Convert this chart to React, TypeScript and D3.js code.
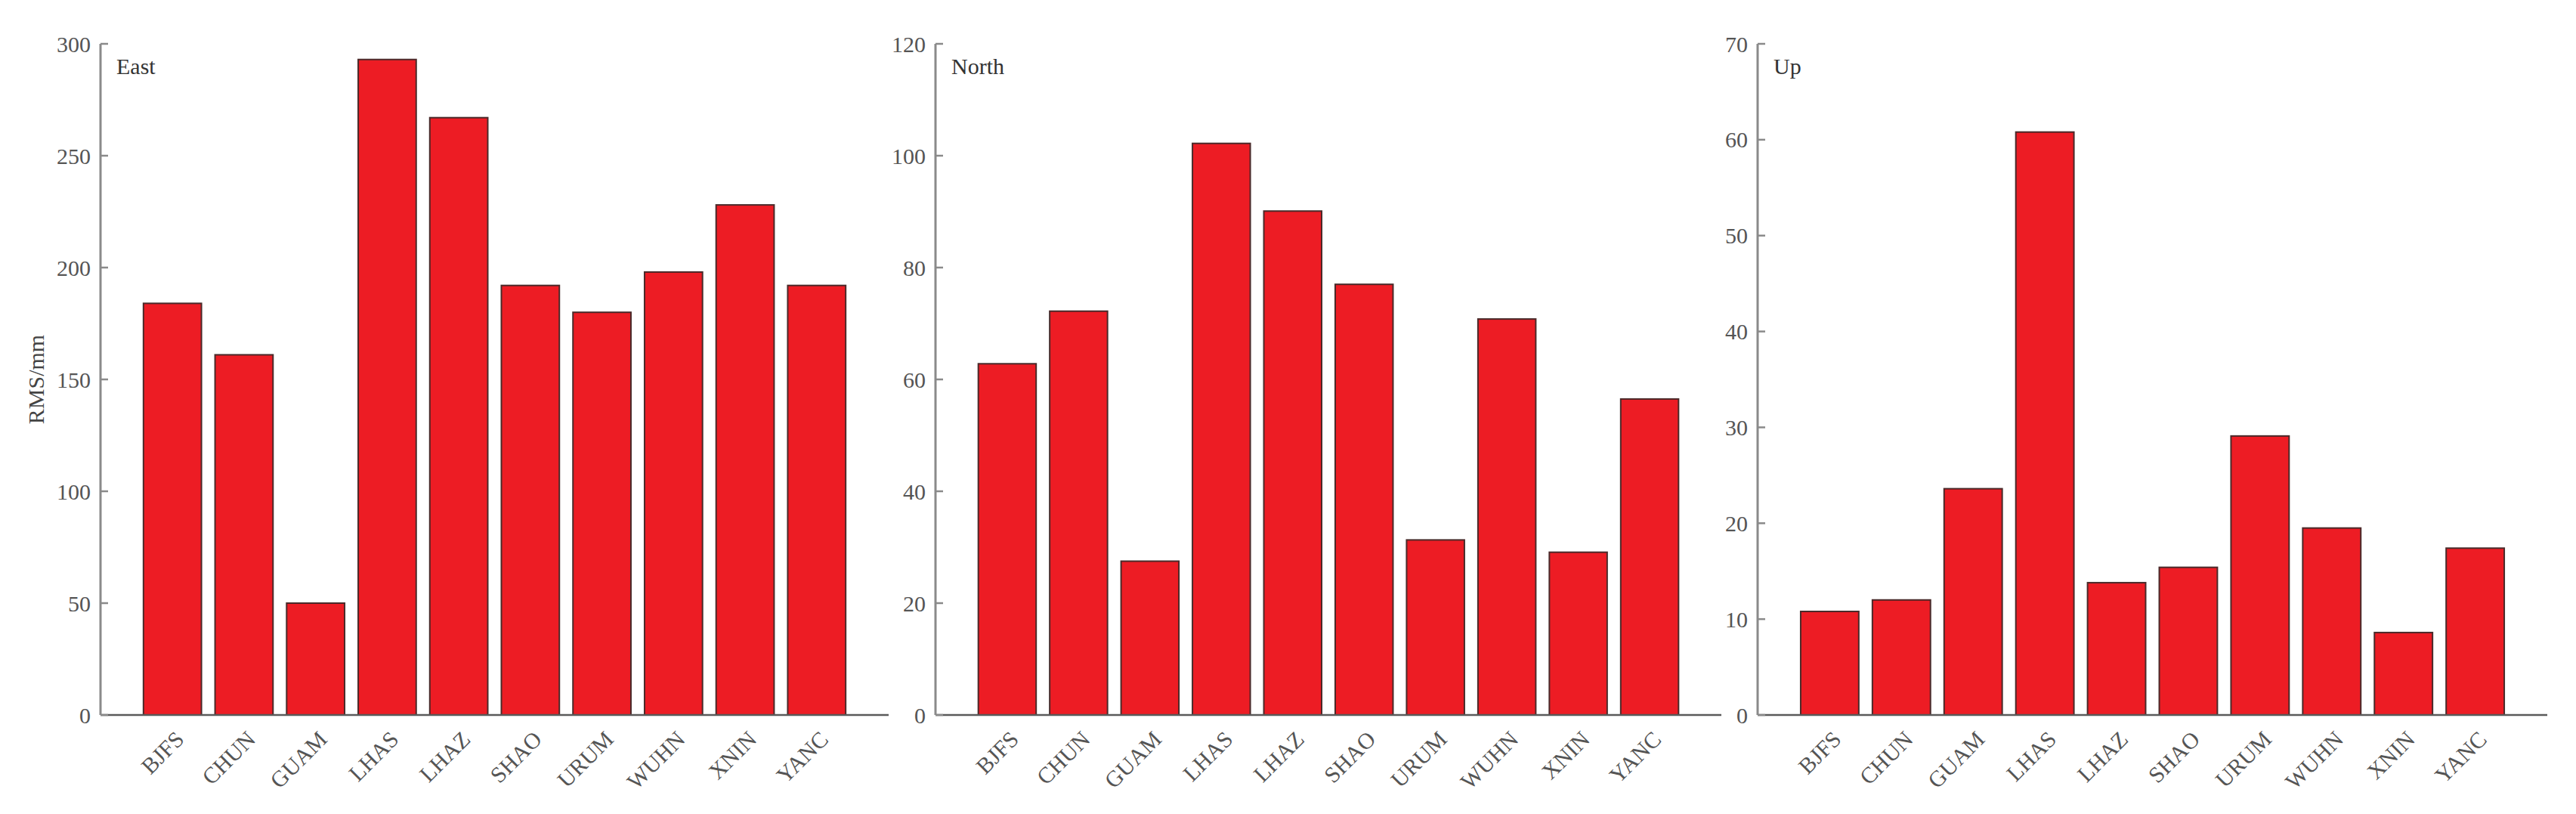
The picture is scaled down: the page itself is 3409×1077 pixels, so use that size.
import React from "react";
import * as d3 from "d3";

const stations = ["BJFS", "CHUN", "GUAM", "LHAS", "LHAZ", "SHAO", "URUM", "WUHN", "XNIN", "YANC"];
const eastValues = [184, 161, 50, 293, 267, 192, 180, 198, 228, 192];
const northValues = [62.8, 72.2, 27.5, 102.2, 90.1, 77, 31.3, 70.8, 29.1, 56.5];
const upValues = [10.8, 12.0, 23.6, 60.8, 13.8, 15.4, 29.1, 19.5, 8.6, 17.4];
const eastTicks = [0, 50, 100, 150, 200, 250, 300];
const northTicks = [0, 20, 40, 60, 80, 100, 120];
const upTicks = [0, 10, 20, 30, 40, 50, 60, 70];
const panelTitles = ["East", "North", "Up"];
const yLabel = "RMS/mm";

const W = 3409;
const H = 1077;
const TOP = 58;
const BASE = 946;
const FONT = "'Liberation Serif', 'Times New Roman', serif";

type PanelProps = {
  x0: number;
  width: number;
  values: number[];
  ticks: number[];
  title: string;
  showYLabel: boolean;
};

function Panel({ x0, width, values, ticks, title, showYLabel }: PanelProps) {
  const x = d3.scaleBand<string>().domain(stations).range([x0, x0 + width]).paddingInner(0.19).paddingOuter(0.6);
  const y = d3.scaleLinear().domain([0, ticks[ticks.length - 1]]).range([BASE, TOP]);
  return (
    <g>
      {values.map((v, i) => (
        <rect
          key={stations[i]}
          x={x(stations[i])}
          y={y(v)}
          width={x.bandwidth()}
          height={y(0) - y(v)}
          fill="#ED1C24"
          stroke="#4a2a2a"
          strokeWidth={2}
        />
      ))}
      <line x1={x0} x2={x0 + width} y1={BASE} y2={BASE} stroke="#5a5a5a" strokeWidth={2.5} />
      <line x1={x0} x2={x0} y1={TOP} y2={BASE} stroke="#8a8a8a" strokeWidth={3} />
      {ticks.map((t) => (
        <g key={t}>
          <line x1={x0} x2={x0 + 10} y1={y(t)} y2={y(t)} stroke="#8a8a8a" strokeWidth={2.5} />
          <text
            x={x0 - 13}
            y={y(t)}
            textAnchor="end"
            dominantBaseline="central"
            fontFamily={FONT}
            fontSize={30}
            fill="#555"
          >
            {t}
          </text>
        </g>
      ))}
      {stations.map((s) => {
        const cx = (x(s) as number) + x.bandwidth() / 2 + 17;
        const cy = BASE + 34;
        return (
          <text
            key={s}
            x={cx}
            y={cy}
            textAnchor="end"
            transform={`rotate(-45 ${cx} ${cy})`}
            fontFamily={FONT}
            fontSize={30}
            fill="#555"
          >
            {s}
          </text>
        );
      })}
      <text x={x0 + 21} y={98} fontFamily={FONT} fontSize={30} fill="#333">
        {title}
      </text>
      {showYLabel && (
        <text
          x={0}
          y={0}
          transform={`translate(58 ${(TOP + BASE) / 2 + 0}) rotate(-90)`}
          textAnchor="middle"
          fontFamily={FONT}
          fontSize={30}
          fill="#444"
        >
          {yLabel}
        </text>
      )}
    </g>
  );
}

export default function App() {
  return (
    <svg
      width={W}
      height={H}
      style={{ position: "absolute", left: 0, top: 0, background: "#fff" }}
    >
      <rect x={0} y={0} width={W} height={H} fill="#fff" />
      <Panel x0={133} width={1043} values={eastValues} ticks={eastTicks} title={panelTitles[0]} showYLabel={true} />
      <Panel x0={1238} width={1040} values={northValues} ticks={northTicks} title={panelTitles[1]} showYLabel={false} />
      <Panel x0={2326} width={1045} values={upValues} ticks={upTicks} title={panelTitles[2]} showYLabel={false} />
    </svg>
  );
}
